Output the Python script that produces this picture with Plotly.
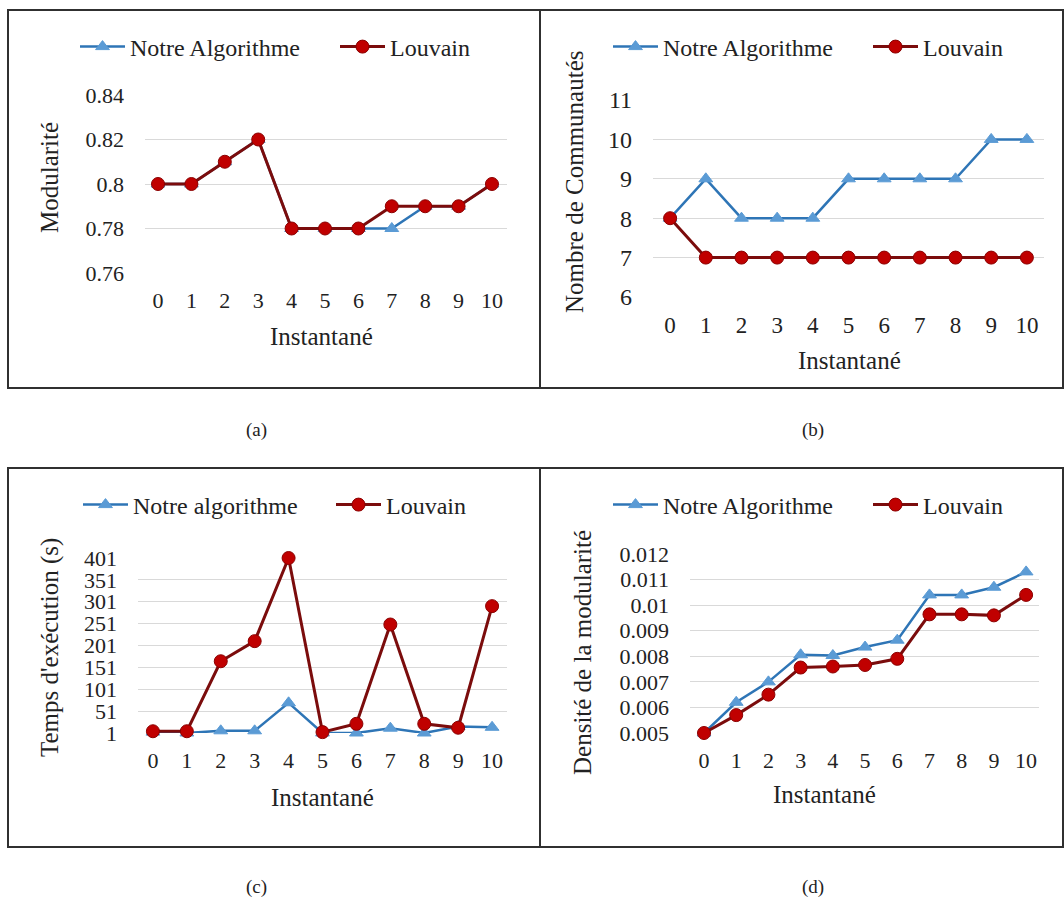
import plotly.graph_objects as go

# ---------------- data ----------------
instants = [0, 1, 2, 3, 4, 5, 6, 7, 8, 9, 10]

mod_notre = [0.80, 0.80, 0.81, 0.82, 0.78, 0.78, 0.78, 0.78, 0.79, 0.79, 0.80]
mod_louvain = [0.80, 0.80, 0.81, 0.82, 0.78, 0.78, 0.78, 0.79, 0.79, 0.79, 0.80]

com_notre = [8, 9, 8, 8, 8, 9, 9, 9, 9, 10, 10]
com_louvain = [8, 7, 7, 7, 7, 7, 7, 7, 7, 7, 7]

temps_notre = [3, 1, 6, 6, 70, 1, 1, 12, 1, 16, 14]
temps_louvain = [5, 5, 165, 211, 401, 3, 22, 249, 22, 13, 291]

dens_notre = [0.0050, 0.0062, 0.0070, 0.00806, 0.00803, 0.00836, 0.00863, 0.0104, 0.0104, 0.0107, 0.0113]
dens_louvain = [0.0050, 0.0057, 0.0065, 0.00756, 0.0076, 0.00766, 0.0079, 0.00964, 0.00964, 0.0096, 0.0104]

mod_ticks = [0.76, 0.78, 0.80, 0.82, 0.84]
mod_ticktext = ["0.76", "0.78", "0.8", "0.82", "0.84"]
com_ticks = [6, 7, 8, 9, 10, 11]
temps_ticks = [1, 51, 101, 151, 201, 251, 301, 351, 401]
dens_ticks = [0.005, 0.006, 0.007, 0.008, 0.009, 0.010, 0.011, 0.012]
dens_ticktext = ["0.005", "0.006", "0.007", "0.008", "0.009", "0.01", "0.011", "0.012"]

name_notre = "Notre Algorithme"
name_notre_c = "Notre algorithme"
name_louvain = "Louvain"
x_title = "Instantané"
y_titles = ["Modularité", "Nombre de Communautés", "Temps d'exécution (s)", "Densité de la modularité"]
captions = ["(a)", "(b)", "(c)", "(d)"]

# ---------------- layout helpers ----------------
W, H = 1064, 902
FONT = "Liberation Serif"
TXT = "#222222"
BLUE_LINE = "#2e75b6"
BLUE_MK = "#5b9bd5"
RED_LINE = "#7b0c0c"
RED_MK = "#c00000"


def px(x):
    return x / W


def py(y):
    return 1 - y / H


fig = go.Figure()

panels = [
    ("x", "y", mod_notre, mod_louvain, name_notre, "legend"),
    ("x2", "y2", com_notre, com_louvain, name_notre, "legend2"),
    ("x3", "y3", temps_notre, temps_louvain, name_notre_c, "legend3"),
    ("x4", "y4", dens_notre, dens_louvain, name_notre, "legend4"),
]

for xa, ya, yn, yl, nn, lg in panels:
    fig.add_trace(go.Scatter(
        x=instants, y=yn, name=nn, mode="lines+markers", xaxis=xa, yaxis=ya,
        line=dict(color=BLUE_LINE, width=2.5),
        marker=dict(symbol="triangle-up", size=12, color=BLUE_MK, line=dict(color=BLUE_MK, width=1)),
        cliponaxis=False, legend=lg,
    ))
    fig.add_trace(go.Scatter(
        x=instants, y=yl, name=name_louvain, mode="lines+markers", xaxis=xa, yaxis=ya,
        line=dict(color=RED_LINE, width=3),
        marker=dict(symbol="circle", size=13, color=RED_MK, line=dict(color="#8b0000", width=1)),
        cliponaxis=False, legend=lg,
    ))


def tickfont(size=22):
    return dict(family=FONT, size=size, color=TXT)


def xaxis_cfg(anchor, d0, d1, r0, r1, fs=22):
    return dict(anchor=anchor, domain=[px(d0), px(d1)], range=[r0, r1], tickvals=instants,
                showgrid=False, zeroline=False, showline=False, ticks="",
                tickfont=tickfont(fs), ticklabelstandoff=12, fixedrange=True)


def yaxis_cfg(anchor, d0, d1, r0, r1, tv, tt=None, fs=22):
    cfg = dict(anchor=anchor, domain=[py(d1), py(d0)], range=[r0, r1], tickvals=tv,
               showgrid=True, gridcolor="#d9d9d9", gridwidth=1,
               zeroline=False, showline=False, ticks="",
               tickfont=tickfont(fs), ticklabelstandoff=20, fixedrange=True)
    if tt is not None:
        cfg["ticktext"] = tt
    return cfg


fig.update_layout(
    xaxis=xaxis_cfg("y", 145, 507, -0.39, 10.45),
    yaxis=yaxis_cfg("x", 95, 273, 0.76 - 1e-6, 0.84 + 1e-6, mod_ticks, mod_ticktext),
    xaxis2=xaxis_cfg("y2", 653, 1044, -0.48, 10.48, fs=23),
    yaxis2=yaxis_cfg("x2", 100, 297, 6 - 1e-6, 11 + 1e-6, com_ticks, fs=24),
    xaxis3=xaxis_cfg("y3", 138, 507, -0.44, 10.44),
    yaxis3=yaxis_cfg("x3", 558, 733, 1 - 1e-4, 401 + 1e-4, temps_ticks),
    xaxis4=xaxis_cfg("y4", 690, 1039, -0.435, 10.4),
    yaxis4=yaxis_cfg("x4", 554, 733, 0.005 - 1e-8, 0.012 + 1e-8, dens_ticks, dens_ticktext),
)

legfont = dict(family=FONT, size=24, color=TXT)


def legend_cfg(x_px, y_px, entry):
    return dict(orientation="h", x=px(x_px), y=py(y_px), xanchor="left", yanchor="middle",
                font=legfont, bgcolor="rgba(0,0,0,0)", borderwidth=0,
                entrywidth=entry, entrywidthmode="pixels", itemwidth=45,
                itemclick=False, itemdoubleclick=False)


fig.update_layout(
    legend=legend_cfg(75, 47, 200),
    legend2=legend_cfg(608, 47, 200),
    legend3=legend_cfg(78, 505, 193),
    legend4=legend_cfg(608, 505, 200),
)

# panel frames
frames = [(8, 10, 540, 388), (540, 10, 1063, 388), (8, 468, 540, 847), (540, 468, 1063, 847)]
shapes = []
for x0, y0, x1, y1 in frames:
    shapes.append(dict(type="rect", xref="paper", yref="paper",
                       x0=px(x0), x1=px(x1), y0=py(y1), y1=py(y0),
                       line=dict(color="#303030", width=2), fillcolor="rgba(0,0,0,0)", layer="below"))

annotations = []
title_font = dict(family=FONT, size=25, color=TXT)
for cx, cy in [(321, 337), (849, 360), (322, 797), (824, 794)]:
    annotations.append(dict(text=x_title, x=px(cx), y=py(cy), xref="paper", yref="paper",
                            showarrow=False, xanchor="center", yanchor="middle", font=title_font))
for t, (cx, cy) in zip(y_titles, [(50, 178), (574, 182), (50, 648), (582, 653)]):
    annotations.append(dict(text=t, x=px(cx), y=py(cy), xref="paper", yref="paper",
                            showarrow=False, xanchor="center", yanchor="middle", textangle=-90,
                            font=title_font))
for t, (cx, cy) in zip(captions, [(256, 430), (813, 430), (256, 887), (813, 887)]):
    annotations.append(dict(text=t, x=px(cx), y=py(cy), xref="paper", yref="paper",
                            showarrow=False, xanchor="center", yanchor="middle",
                            font=dict(family=FONT, size=19, color=TXT)))

fig.update_layout(
    width=W, height=H, margin=dict(l=0, r=0, t=0, b=0, autoexpand=False),
    paper_bgcolor="white", plot_bgcolor="white",
    shapes=shapes, annotations=annotations, showlegend=True,
)

fig.write_html("out.html", config={"displayModeBar": False},
               post_script="document.body.style.margin='0px';")
